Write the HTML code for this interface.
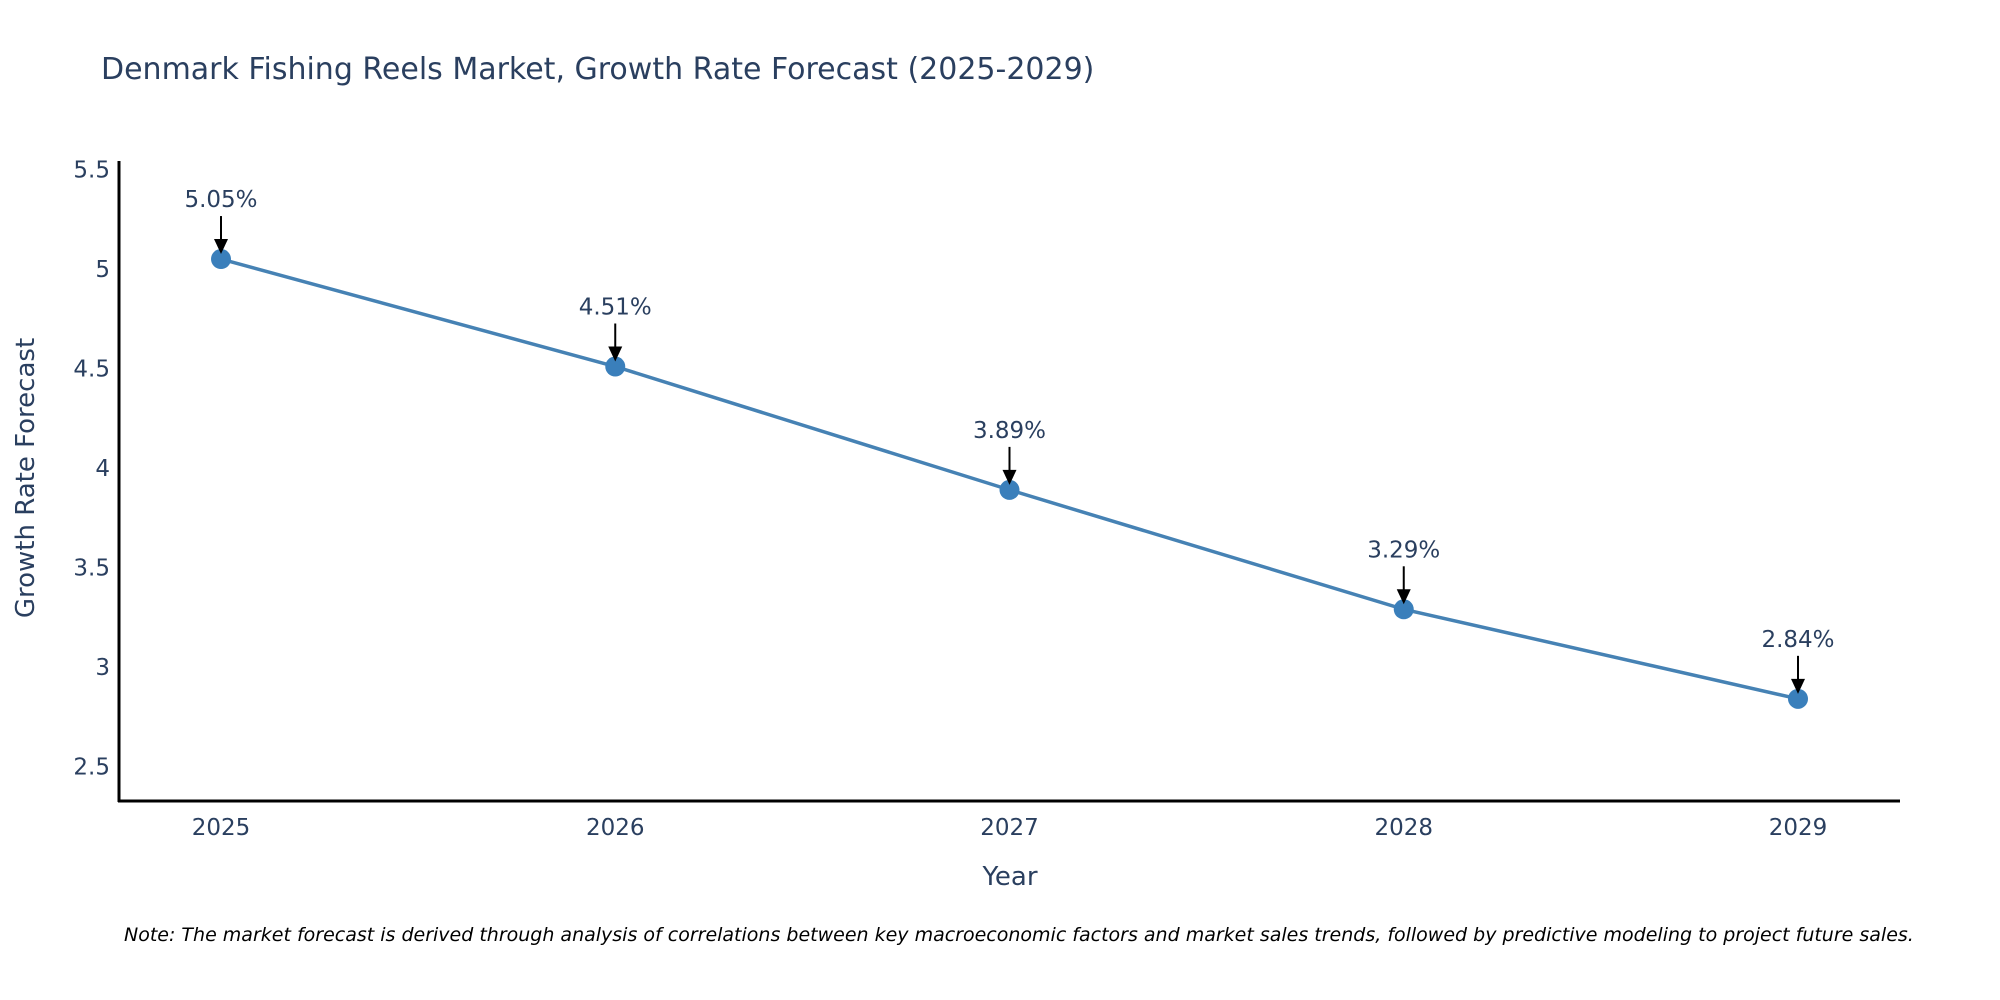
<!DOCTYPE html>
<html><head><meta charset="utf-8"><style>
body{margin:0;background:#fff;}
svg{display:block;font-family:"DejaVu Sans","Liberation Sans",sans-serif;}
</style></head><body>
<svg id="chart" width="2000" height="1000" viewBox="0 0 2000 1000">
<text x="101" y="79" font-size="30" fill="#2a3f5f">Denmark Fishing Reels Market, Growth Rate Forecast (2025-2029)</text>
<g id="yticks"></g>
<g id="xticks"></g>
<line x1="119" y1="161" x2="119" y2="802" stroke="#000" stroke-width="3"/>
<line x1="118" y1="801" x2="1900" y2="801" stroke="#000" stroke-width="3"/>
<text x="1010" y="885" font-size="26" fill="#2a3f5f" text-anchor="middle">Year</text>
<text transform="translate(34,478) rotate(-90)" font-size="26" fill="#2a3f5f" text-anchor="middle">Growth Rate Forecast</text>
<g id="series"></g>
<text x="124" y="941" font-size="19" font-style="italic" fill="#000">Note: The market forecast is derived through analysis of correlations between key macroeconomic factors and market sales trends, followed by predictive modeling to project future sales.</text>
</svg>
<script>
const years = [2025, 2026, 2027, 2028, 2029];
const growth = [5.05, 4.51, 3.89, 3.29, 2.84];
const yTickVals = [2.5, 3, 3.5, 4, 4.5, 5, 5.5];
const yTickLabels = ["2.5", "3", "3.5", "4", "4.5", "5", "5.5"];

const NS = "http://www.w3.org/2000/svg";
function xs(i){ return 221 + i * 394.25; }
function ys(v){ return 269 - (v - 5) * 199; }
function mk(tag, attrs, parent){ const e=document.createElementNS(NS,tag); for(const k in attrs) e.setAttribute(k,attrs[k]); parent.appendChild(e); return e; }

const yg = document.getElementById('yticks');
yTickVals.forEach((v,i)=>{
  const t = mk('text',{x:110,y:ys(v)+8,'font-size':23,fill:'#2a3f5f','text-anchor':'end'},yg);
  
  
  t.textContent = yTickLabels[i];
});
const xg = document.getElementById('xticks');
years.forEach((y,i)=>{
  const t = mk('text',{x:xs(i),y:835,'font-size':23,fill:'#2a3f5f','text-anchor':'middle'},xg);
  
  
  t.textContent = y;
});
const sg = document.getElementById('series');
const pts = growth.map((v,i)=>xs(i)+','+ys(v)).join(' ');
const pl = mk('polyline',{points:pts,fill:'none',stroke:'#4682b4','stroke-width':3.5},sg);


growth.forEach((v,i)=>{
  const cx = xs(i), cy = ys(v);
  const c = mk('circle',{cx:cx,cy:cy,r:10,fill:'#3a7fbb'},sg);
  
  
  const a = mk('line',{x1:cx,y1:cy-43,x2:cx,y2:cy-18,stroke:'#000','stroke-width':2},sg);
  
  
  const h = mk('path',{d:`M${cx-7},${cy-20} L${cx+7},${cy-20} L${cx},${cy-5} Z`,fill:'#000'},sg);
  
  
  const t = mk('text',{x:cx,y:cy-52,'font-size':23,fill:'#2a3f5f','text-anchor':'middle'},sg);
  
  
  t.textContent = v.toFixed(2)+'%';
});
</script>
</body></html>
